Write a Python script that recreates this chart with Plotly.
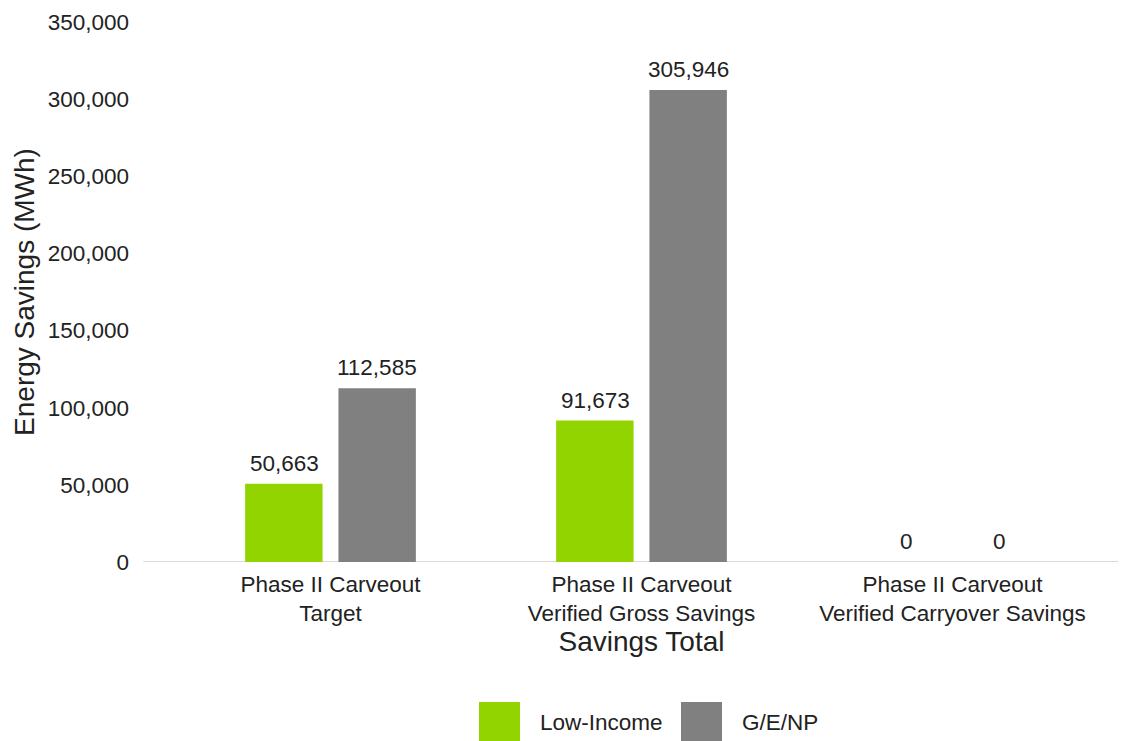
import plotly.graph_objects as go

categories = ["Phase II Carveout<br>Target", "Phase II Carveout<br>Verified Gross Savings", "Phase II Carveout<br>Verified Carryover Savings"]
low_income = [50663, 91673, 0]
ge_np = [112585, 305946, 0]
series_names = ["Low-Income", "G/E/NP"]
colors = ["#92D400", "#808080"]
tick_vals = [0, 50000, 100000, 150000, 200000, 250000, 300000, 350000]

font_fam = "Liberation Sans, Arial, sans-serif"
txt = "#222222"
fs = 22.5

fig = go.Figure()
series = [low_income, ge_np]
offsets = [-46.5, 46.5]
for name, vals, c, off in zip(series_names, series, colors, offsets):
    fig.add_trace(go.Bar(
        x=categories, y=vals, name=name, marker_color=c, marker_line_width=0,
        showlegend=False, hoverinfo="x+y",
    ))
    for cat, v in zip(categories, vals):
        fig.add_annotation(x=cat, y=v, xref="x", yref="y", text=f"{v:,}",
                           showarrow=False, xshift=off, yshift=6, yanchor="bottom",
                           font=dict(size=fs, color=txt))

fig.update_layout(
    width=1118, height=733,
    margin=dict(l=167, r=18, t=14, b=179, autoexpand=False),
    paper_bgcolor="white", plot_bgcolor="white",
    barmode="group", bargap=0.40, bargroupgap=0.17,
    font=dict(family=font_fam, color=txt, size=fs),
    xaxis=dict(
        showgrid=False, showline=False, zeroline=False, automargin=False,
        tickfont=dict(size=fs, color=txt), ticklabelstandoff=6,
        title=dict(text="Savings Total", font=dict(size=28, color=txt), standoff=2),
    ),
    yaxis=dict(
        range=[0, 350000], tickvals=tick_vals, tickformat=",d", automargin=False,
        showgrid=False, zeroline=False, showline=False,
        tickfont=dict(size=fs, color=txt), ticklabelstandoff=45,
        title=dict(text="Energy Savings (MWh)", font=dict(size=28, color=txt), standoff=4),
    ),
    showlegend=False,
)

# baseline
fig.add_shape(type="line", xref="paper", yref="y", x0=-0.034, x1=1.011, y0=0, y1=0,
              line=dict(color="#d9d9d9", width=2), layer="below")

# legend (custom large swatches)
def px_x(p):
    return (p - 175) / 933
def px_y(p):
    return (562 - p) / 540

legend_items = [(series_names[0], colors[0], 479, 538), (series_names[1], colors[1], 681, 740)]
for name, c, sx, tx in legend_items:
    fig.add_shape(type="rect", xref="paper", yref="paper",
                  x0=px_x(sx), x1=px_x(sx + 41), y0=px_y(745), y1=px_y(702),
                  fillcolor=c, line=dict(width=0))
    fig.add_annotation(xref="paper", yref="paper", x=px_x(tx), y=px_y(722),
                       text=name, showarrow=False, xanchor="left", yanchor="middle",
                       font=dict(size=fs, color=txt))

fig.write_html("out.html")
